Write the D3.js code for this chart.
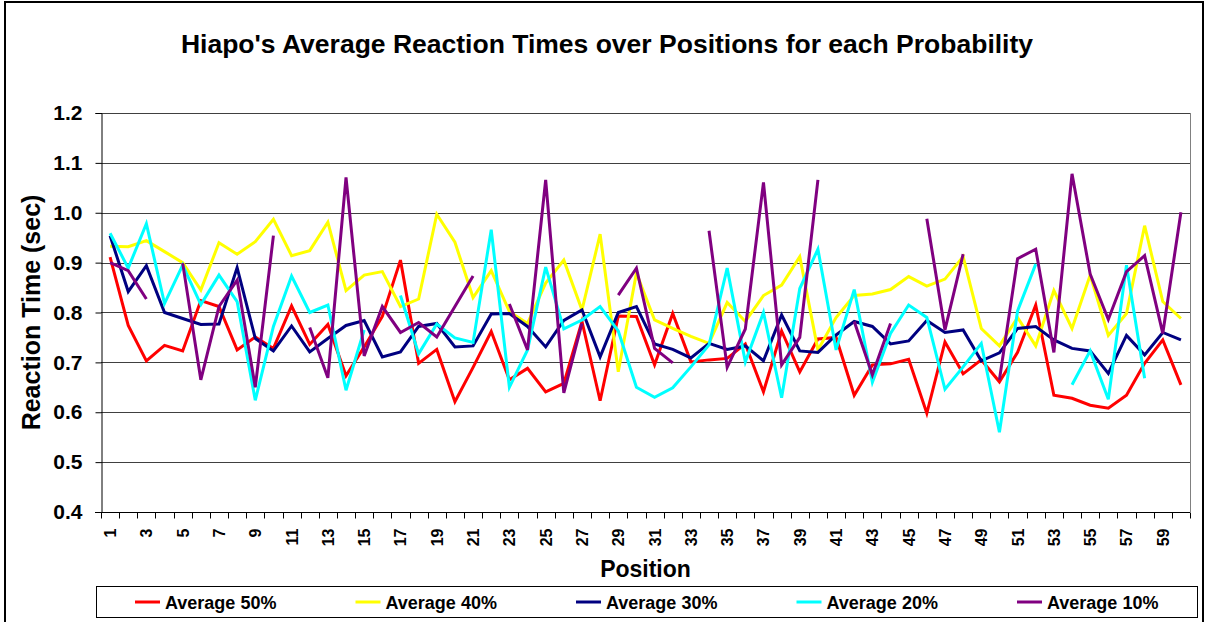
<!DOCTYPE html>
<html>
<head>
<meta charset="utf-8">
<script src="https://cdn.jsdelivr.net/npm/d3@7"></script>
<style>
    body { margin: 0; background: #fff; }
    svg text { font-family: 'Liberation Sans', Arial, sans-serif; font-weight: bold; fill: #000; }
</style>
</head>
<body>
<div id="d3Stage"></div>
<script>
'use strict';

// values, one per position (null = no data)
var positions = d3.range(1, 61);

var avg50 = [0.911, 0.774, 0.703, 0.734, 0.723, 0.824, 0.812, 0.725, 0.751, 0.728,
    0.813, 0.736, 0.776, 0.673, 0.731, 0.792, 0.905, 0.698, 0.726, 0.621,
    0.690, 0.762, 0.665, 0.688, 0.641, 0.658, 0.782, 0.623, 0.793, 0.792,
    0.695, 0.798, 0.701, 0.705, 0.708, 0.737, 0.641, 0.763, 0.681, 0.747,
    0.750, 0.634, 0.695, 0.697, 0.706, 0.598, 0.741, 0.677, 0.705, 0.661,
    0.720, 0.815, 0.634, 0.628, 0.614, 0.608, 0.634, 0.698, 0.745, 0.655];

var avg40 = [0.933, 0.932, 0.944, 0.922, 0.900, 0.845, 0.940, 0.917, 0.942, 0.987,
    0.914, 0.924, 0.981, 0.844, 0.875, 0.882, 0.812, 0.827, 0.997, 0.941,
    0.830, 0.884, 0.802, 0.778, 0.859, 0.905, 0.805, 0.957, 0.681, 0.879,
    0.785, 0.768, 0.752, 0.738, 0.820, 0.782, 0.834, 0.855, 0.912, 0.725,
    0.790, 0.834, 0.837, 0.846, 0.872, 0.853, 0.867, 0.912, 0.768, 0.733,
    0.790, 0.733, 0.844, 0.768, 0.875, 0.754, 0.798, 0.974, 0.822, 0.788];

var avg30 = [0.954, 0.842, 0.894, 0.800, 0.788, 0.776, 0.777, 0.890, 0.748, 0.723,
    0.773, 0.721, 0.748, 0.774, 0.784, 0.711, 0.721, 0.772, 0.778, 0.731,
    0.733, 0.797, 0.798, 0.772, 0.731, 0.784, 0.805, 0.711, 0.800, 0.812,
    0.737, 0.726, 0.709, 0.738, 0.726, 0.733, 0.703, 0.795, 0.723, 0.720,
    0.755, 0.782, 0.772, 0.737, 0.743, 0.784, 0.760, 0.765, 0.703, 0.719,
    0.768, 0.772, 0.745, 0.728, 0.723, 0.678, 0.754, 0.715, 0.760, 0.745];

var avg20 = [0.959, 0.889, 0.978, 0.818, 0.895, 0.816, 0.875, 0.822, 0.624, 0.772,
    0.873, 0.800, 0.815, 0.644, 0.765, null, 0.834, 0.717, 0.777, 0.749,
    0.740, 0.966, 0.650, 0.725, 0.891, 0.767, 0.785, 0.812, 0.763, 0.650,
    0.630, 0.649, 0.691, 0.735, 0.889, 0.701, 0.800, 0.629, 0.848, 0.927,
    0.725, 0.846, 0.660, 0.758, 0.815, 0.790, 0.646, 0.691, 0.738, 0.560,
    0.803, 0.897, null, 0.655, 0.723, 0.626, 0.895, 0.668, null, null];

var avg10 = [0.900, 0.884, 0.827, null, 0.899, 0.665, 0.812, 0.865, 0.650, 0.954,
    null, 0.770, 0.669, 1.071, 0.713, 0.812, 0.760, 0.780, 0.751, 0.812,
    0.873, null, 0.817, 0.725, 1.066, 0.639, 0.778, null, 0.835, 0.889,
    0.728, 0.699, null, 0.964, 0.690, 0.767, 1.061, 0.695, 0.750, 1.066,
    null, 0.782, 0.675, 0.778, null, 0.988, 0.765, 0.917, null, 0.665,
    0.908, 0.927, 0.720, 1.078, 0.877, 0.786, 0.882, 0.914, 0.758, 1.001];

var seriesNames = ['Average 50%', 'Average 40%', 'Average 30%', 'Average 20%', 'Average 10%'];
var seriesColors = ['#ff0000', '#ffff00', '#000080', '#00ffff', '#800080'];
var seriesValues = [avg50, avg40, avg30, avg20, avg10];
var yTicks = [0.4, 0.5, 0.6, 0.7, 0.8, 0.9, 1.0, 1.1, 1.2];

var width = 1208, height = 622;
var plotLeft = 101, plotRight = 1190, plotTop = 113, plotBottom = 512;

function DrawChart() {
    var svg = d3.select('#d3Stage').append('svg')
        .attr('width', width)
        .attr('height', height);

    // outer chart frame
    svg.append('rect')
        .attr('x', 5).attr('y', 2)
        .attr('width', 1198).attr('height', 660)
        .style('fill', 'none').style('stroke', '#000').style('stroke-width', 2);

    var x = d3.scaleBand().domain(positions).range([plotLeft, plotRight]);
    var y = d3.scaleLinear().domain([0.4, 1.2]).range([plotBottom, plotTop]);

    // gridlines
    svg.append('g').selectAll('line').data(yTicks.slice(1)).enter()
        .append('line')
            .attr('x1', plotLeft).attr('x2', plotRight)
            .attr('y1', function(d) { return Math.round(y(d)) + 0.5; })
            .attr('y2', function(d) { return Math.round(y(d)) + 0.5; })
            .style('stroke', '#404040').style('stroke-width', 1);

    // right edge of plot area
    svg.append('line')
        .attr('x1', plotRight + 0.5).attr('x2', plotRight + 0.5)
        .attr('y1', plotTop).attr('y2', plotBottom)
        .style('stroke', '#808080').style('stroke-width', 1);

    // y axis
    var yAxis = d3.axisLeft(y).tickValues(yTicks).tickFormat(d3.format('.1f')).tickSize(6).tickPadding(13);
    var gy = svg.append('g')
        .attr('transform', 'translate(' + (plotLeft + 0.5) + ',0)')
        .call(yAxis);
    gy.selectAll('text').style('font-size', '21px');
    gy.selectAll('line, path').style('stroke', '#000');

    // x axis: ticks between categories, labels on odd positions
    var gx = svg.append('g').attr('transform', 'translate(0,' + (plotBottom + 0.5) + ')');
    gx.append('line')
        .attr('x1', plotLeft - 6).attr('x2', plotRight)
        .style('stroke', '#000');
    gx.selectAll('.tick').data(d3.range(0, 61)).enter()
        .append('line')
            .attr('x1', function(d) { return Math.round(plotLeft + d * x.bandwidth()) + 0.5; })
            .attr('x2', function(d) { return Math.round(plotLeft + d * x.bandwidth()) + 0.5; })
            .attr('y1', 0).attr('y2', 6)
            .style('stroke', '#000');
    gx.selectAll('text').data(positions.filter(function(d) { return d % 2 === 1; })).enter()
        .append('text')
            .attr('transform', function(d) {
                return 'translate(' + (x(d) + x.bandwidth() / 2 + 6) + ',16) rotate(-90)';
            })
            .attr('text-anchor', 'end')
            .style('font-size', '16px')
            .text(function(d) { return d; });

    // series lines
    var line = d3.line()
        .defined(function(d) { return d.v !== null; })
        .x(function(d) { return x(d.p) + x.bandwidth() / 2; })
        .y(function(d) { return y(d.v); });

    svg.append('g').selectAll('path').data(seriesValues).enter()
        .append('path')
            .attr('d', function(vals) {
                return line(vals.map(function(v, i) { return {'p': positions[i], 'v': v}; }));
            })
            .style('fill', 'none')
            .style('stroke', function(d, i) { return seriesColors[i]; })
            .style('stroke-width', 3)
            .style('stroke-linejoin', 'miter');

    // titles
    svg.append('text')
        .attr('x', 607).attr('y', 53)
        .attr('text-anchor', 'middle')
        .style('font-size', '26.5px')
        .text("Hiapo's Average Reaction Times over Positions for each Probability");

    svg.append('text')
        .attr('x', (plotLeft + plotRight) / 2).attr('y', 577)
        .attr('text-anchor', 'middle')
        .style('font-size', '23px')
        .text('Position');

    svg.append('text')
        .attr('transform', 'translate(40,' + ((plotTop + plotBottom) / 2) + ') rotate(-90)')
        .attr('text-anchor', 'middle')
        .style('font-size', '25px')
        .text('Reaction Time (sec)');

    // legend
    var legend = svg.append('g');
    legend.append('rect')
        .attr('x', 96.5).attr('y', 586.5)
        .attr('width', 1101).attr('height', 31)
        .style('fill', '#fff').style('stroke', '#000').style('stroke-width', 1);
    var item = legend.selectAll('.item').data(seriesNames).enter()
        .append('g')
            .attr('transform', function(d, i) { return 'translate(' + (135 + i * 220.5) + ',0)'; });
    item.append('line')
        .attr('x1', 0).attr('x2', 25)
        .attr('y1', 602).attr('y2', 602)
        .style('stroke', function(d, i) { return seriesColors[i]; })
        .style('stroke-width', 3);
    item.append('text')
        .attr('x', 30).attr('y', 609)
        .style('font-size', '18px')
        .text(function(d) { return d; });
}

window.onload = DrawChart;
</script>
</body>
</html>
